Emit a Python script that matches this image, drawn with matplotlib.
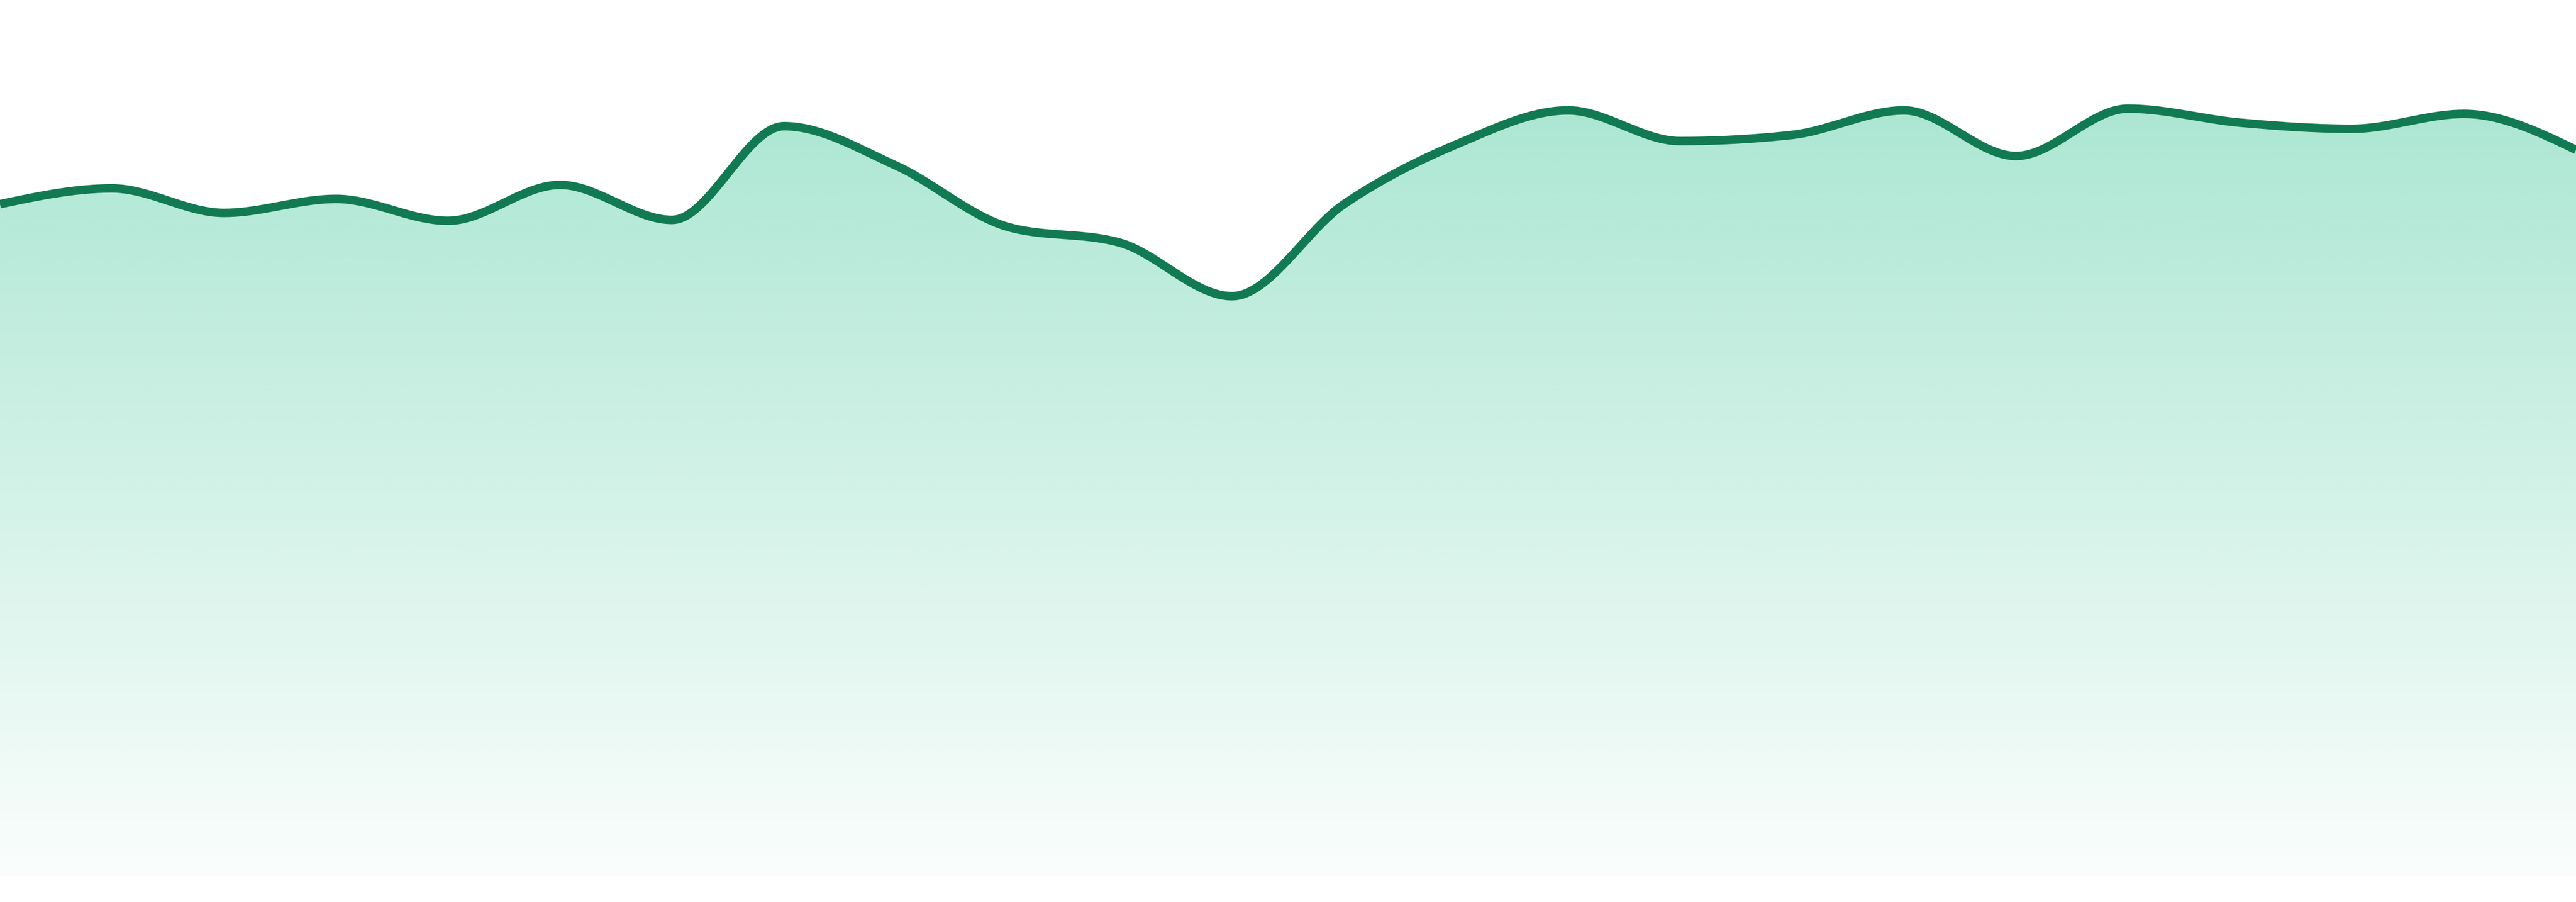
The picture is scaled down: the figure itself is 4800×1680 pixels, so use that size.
import numpy as np
import matplotlib.pyplot as plt
from matplotlib.colors import to_rgb
from matplotlib.patches import Polygon

# values, one per evenly spaced step
steps = list(range(24))
values = [76.7, 78.5, 75.7, 77.3, 74.8, 78.9, 74.9, 85.6, 81.1, 74.1, 72.3, 66.2,
          76.7, 83.5, 87.4, 83.9, 84.6, 87.4, 82.2, 87.6, 86.0, 85.3, 87.0, 82.9]

LINE_COLOR = "#127a52"
FILL_COLOR = "#10b981"


def monotone_x(xs, ys, n=40):
    """d3-style curveMonotoneX, sampled as dense points."""
    xs = np.asarray(xs, float)
    ys = np.asarray(ys, float)
    m = len(xs)
    t = np.zeros(m)
    for i in range(1, m - 1):
        h0 = xs[i] - xs[i - 1]
        h1 = xs[i + 1] - xs[i]
        s0 = (ys[i] - ys[i - 1]) / h0
        s1 = (ys[i + 1] - ys[i]) / h1
        p = (s0 * h1 + s1 * h0) / (h0 + h1)
        t[i] = (np.sign(s0) + np.sign(s1)) * min(abs(s0), abs(s1), 0.5 * abs(p))
    h = xs[1] - xs[0]
    t[0] = (3 * (ys[1] - ys[0]) / h - t[1]) / 2
    h = xs[-1] - xs[-2]
    t[-1] = (3 * (ys[-1] - ys[-2]) / h - t[-2]) / 2

    px, py = [], []
    u = np.linspace(0, 1, n)
    for i in range(m - 1):
        dx = (xs[i + 1] - xs[i]) / 3
        p0 = (xs[i], ys[i])
        p1 = (xs[i] + dx, ys[i] + dx * t[i])
        p2 = (xs[i + 1] - dx, ys[i + 1] - dx * t[i + 1])
        p3 = (xs[i + 1], ys[i + 1])
        bx = ((1 - u) ** 3 * p0[0] + 3 * (1 - u) ** 2 * u * p1[0]
              + 3 * (1 - u) * u ** 2 * p2[0] + u ** 3 * p3[0])
        by = ((1 - u) ** 3 * p0[1] + 3 * (1 - u) ** 2 * u * p1[1]
              + 3 * (1 - u) * u ** 2 * p2[1] + u ** 3 * p3[1])
        if i:
            bx, by = bx[1:], by[1:]
        px.append(bx)
        py.append(by)
    return np.concatenate(px), np.concatenate(py)


fig = plt.figure(figsize=(16, 5.6), dpi=300)
ax = fig.add_axes([0, 48 / 1680, 1, 1632 / 1680])
ax.set_xlim(steps[0], steps[-1])
ax.set_ylim(0, 100)
ax.axis("off")

cx, cy = monotone_x(steps, values)

# gradient fill under the curve
top = cy.max()
rgb = to_rgb(FILL_COLOR)
grad = np.zeros((256, 2, 4))
grad[..., :3] = rgb
grad[..., 3] = np.linspace(0.35, 0.02, 256)[:, None]
img = ax.imshow(grad, extent=[steps[0], steps[-1], 0, top], aspect="auto",
                origin="upper", interpolation="bilinear", zorder=1)
poly = Polygon(np.column_stack([np.r_[cx, cx[-1], cx[0]], np.r_[cy, 0, 0]]),
               closed=True, facecolor="none", edgecolor="none")
ax.add_patch(poly)
img.set_clip_path(poly)

ax.plot(cx, cy, color=LINE_COLOR, linewidth=3.8, solid_capstyle="butt", zorder=2)

fig.savefig("out.png", dpi=300, facecolor="white")
